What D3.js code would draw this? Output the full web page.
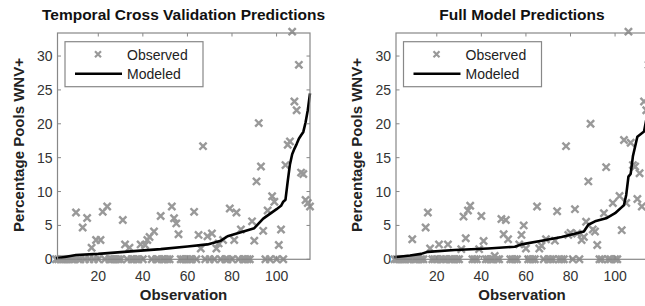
<!DOCTYPE html>
<html>
<head>
<meta charset="utf-8">
<script src="https://cdn.jsdelivr.net/npm/d3@7"></script>
<style>
  body { margin: 0; background: #fff; }
  svg { display: block; font-family: "Liberation Sans", Arial, sans-serif; }
  .tick-label { font-size: 14px; fill: #333; }
  .title { font-size: 15.5px; font-weight: bold; fill: #111; }
  .axis-title { font-size: 15px; font-weight: bold; fill: #222; }
  .legend-text { font-size: 14px; fill: #222; }
</style>
</head>
<body>
<svg id="chart" width="645" height="306"></svg>
<script>
// observed % pools WNV+, one value per observation (1..115), sorted by prediction
var cvObserved = [
    0, 0, 0, 0, 0, 0, 0, 0, 0, 6.9,
    0, 0, 4.7, 0, 6.1, 0, 1.7, 0, 2.85, 0,
    2.85, 7.0, 0, 7.8, 0, 0, 0, 0, 0, 0,
    5.8, 2.2, 0, 1.7, 0, 0, 0, 0, 2.2, 0,
    2.1, 2.85, 3.3, 0, 4.1, 0, 0, 6.4, 0, 0,
    0, 0, 7.8, 6.05, 5.3, 3.7, 0, 0, 0, 0,
    0, 0, 7.0, 0, 3.6, 1.6, 16.7, 0, 3.4, 0,
    3.8, 0, 1.6, 2.35, 0, 2.85, 0, 0, 7.5, 0,
    2.85, 6.9, 0, 4.4, 0, 0, 0, 0, 5.6, 2.75,
    11.5, 20.1, 13.7, 4.2, 0, 7.2, 0, 9.3, 8.5, 0,
    2.1, 4.4, 0, 13.9, 16.9, 17.4, 33.6, 23.3, 22.0, 28.7,
    12.8, 12.6, 8.75, 8.3, 7.8
];
var cvModelObs = [1, 5, 10, 20, 36, 48, 60, 69, 75, 78, 84, 90, 92, 94, 97, 100, 102, 103, 104, 105, 106, 107, 108, 109, 110, 111, 112, 113, 114, 115];
var cvModelVal = [0.15, 0.35, 0.63, 0.8, 1.2, 1.5, 1.9, 2.2, 2.75, 3.4, 4.0, 4.6, 5.3, 6.0, 6.7, 7.4, 7.9, 8.5, 8.8, 11.5, 14.0, 15.5, 16.3, 17.0, 17.8, 18.3, 18.8, 20.2, 22.0, 24.5];

var fullObserved = [
    0, 0, 0, 0, 0, 0, 0, 0, 2.95, 0,
    0, 0, 0, 0, 4.7, 6.9, 1.6, 0, 0, 0,
    2.2, 0, 0, 0, 2.2, 0, 0, 0, 0, 0,
    1.5, 6.3, 3.1, 7.2, 7.9, 0, 0, 0, 1.5, 6.4,
    2.7, 0, 0, 0, 0, 0.5, 0, 0, 5.95, 3.7,
    5.8, 2.95, 0, 0, 0, 0, 2.2, 3.6, 5.0, 1.6,
    0, 0, 0, 0, 7.8, 1.6, 2.0, 0, 2.95, 0,
    0, 0, 2.75, 7.1, 0, 0, 0, 16.7, 3.6, 3.9,
    0, 7.4, 3.8, 0, 2.85, 3.3, 5.55, 11.5, 20.0, 4.4,
    4.1, 2.1, 0, 0, 6.8, 13.6, 0, 0, 8.3, 0,
    0, 9.35, 4.3, 17.6, 8.3, 33.6, 17.2, 13.9, 13.7, 8.9,
    12.7, 7.8, 23.3, 22.0, 28.7
];
var fullModelObs = [1, 8, 13, 16, 28, 43, 55, 58, 67, 76, 86, 88, 91, 96, 100, 104, 105, 106, 107, 108, 110, 113, 114, 115];
var fullModelVal = [0.3, 0.55, 0.8, 1.1, 1.37, 1.6, 1.86, 2.2, 2.75, 3.3, 4.1, 5.1, 5.6, 6.05, 6.8, 8.0, 9.5, 12.2, 12.6, 15.2, 18.1, 18.85, 20.6, 22.5];

var panelTitles = ["Temporal Cross Validation Predictions", "Full Model Predictions"];
var xTicks = [20, 40, 60, 80, 100];
var yTicks = [0, 5, 10, 15, 20, 25, 30];
var legendLabels = ["Observed", "Modeled"];

var svg = d3.select("#chart");
var markColor = "#999", frameColor = "#888";

var drawPanel = function(left, title, observed, modelObs, modelVal) {
    var top = 33, bottom = 259.3, w = 252.5;
    var x = d3.scaleLinear().domain([1.7, 115]).range([left, left + w]);
    var y = d3.scaleLinear().domain([0, 33.4]).range([bottom, top]);
    var g = svg.append("g");

    var pts = observed.map(function(v, i) { return {i: i + 1, v: v}; });
    var s = 3.6;
    g.selectAll(".obs")
        .data(pts)
        .enter()
        .append("path")
            .attr("class", "obs")
            .attr("d", function(d) {
                var cx = x(d.i), cy = y(d.v);
                return "M" + (cx - s) + "," + (cy - s) + "L" + (cx + s) + "," + (cy + s) +
                       "M" + (cx - s) + "," + (cy + s) + "L" + (cx + s) + "," + (cy - s);
            })
            .attr("stroke", markColor)
            .attr("stroke-width", 2.4)
            .attr("fill", "none");

    var line = d3.line()
        .x(function(d) { return x(d[0]); })
        .y(function(d) { return y(d[1]); });
    g.append("path")
        .datum(d3.zip(modelObs, modelVal))
        .attr("d", line)
        .attr("fill", "none")
        .attr("stroke", "#000")
        .attr("stroke-width", 2.6)
        .attr("stroke-linejoin", "round");

    // frame
    g.append("rect")
        .attr("x", left).attr("y", top)
        .attr("width", w).attr("height", bottom - top)
        .attr("fill", "none")
        .attr("stroke", frameColor)
        .attr("stroke-width", 1.2);

    // inward ticks, mirrored
    var tl = 3.5;
    xTicks.forEach(function(t) {
        g.append("line").attr("x1", x(t)).attr("x2", x(t)).attr("y1", bottom).attr("y2", bottom - tl)
            .attr("stroke", frameColor);
        g.append("line").attr("x1", x(t)).attr("x2", x(t)).attr("y1", top).attr("y2", top + tl)
            .attr("stroke", frameColor);
        g.append("text").attr("class", "tick-label")
            .attr("x", x(t)).attr("y", bottom + 22)
            .attr("text-anchor", "middle")
            .text(t);
    });
    yTicks.forEach(function(t) {
        g.append("line").attr("x1", left).attr("x2", left + tl).attr("y1", y(t)).attr("y2", y(t))
            .attr("stroke", frameColor);
        g.append("line").attr("x1", left + w).attr("x2", left + w - tl).attr("y1", y(t)).attr("y2", y(t))
            .attr("stroke", frameColor);
        g.append("text").attr("class", "tick-label")
            .attr("x", left - 5).attr("y", y(t) + 5)
            .attr("text-anchor", "end")
            .text(t);
    });

    g.append("text").attr("class", "title")
        .attr("x", left + 126).attr("y", 20)
        .attr("text-anchor", "middle")
        .text(title);
    g.append("text").attr("class", "axis-title")
        .attr("x", left + 126).attr("y", 300)
        .attr("text-anchor", "middle")
        .text("Observation");
    g.append("text").attr("class", "axis-title")
        .attr("transform", "translate(" + (left - 34) + "," + 145 + ") rotate(-90)")
        .attr("text-anchor", "middle")
        .text("Percentage Pools WNV+");

    // legend
    var lg = g.append("g").attr("transform", "translate(" + (left + 7.5) + ",41.7)");
    lg.append("rect").attr("width", 138).attr("height", 45)
        .attr("fill", "#fff").attr("stroke", frameColor).attr("stroke-width", 1.2);
    var mx = 33, my = 12.5, ms = 3;
    lg.append("path")
        .attr("d", "M" + (mx - ms) + "," + (my - ms) + "L" + (mx + ms) + "," + (my + ms) +
                   "M" + (mx - ms) + "," + (my + ms) + "L" + (mx + ms) + "," + (my - ms))
        .attr("stroke", markColor).attr("stroke-width", 2.2);
    lg.append("line").attr("x1", 10).attr("x2", 57).attr("y1", 32).attr("y2", 32)
        .attr("stroke", "#000").attr("stroke-width", 2.6);
    lg.selectAll(".legend-text")
        .data(legendLabels)
        .enter()
        .append("text")
            .attr("class", "legend-text")
            .attr("x", 62)
            .attr("y", function(d, i) { return 18 + i * 19.5; })
            .text(function(d) { return d; });
};

drawPanel(57.5, panelTitles[0], cvObserved, cvModelObs, cvModelVal);
drawPanel(396, panelTitles[1], fullObserved, fullModelObs, fullModelVal);
</script>
</body>
</html>
